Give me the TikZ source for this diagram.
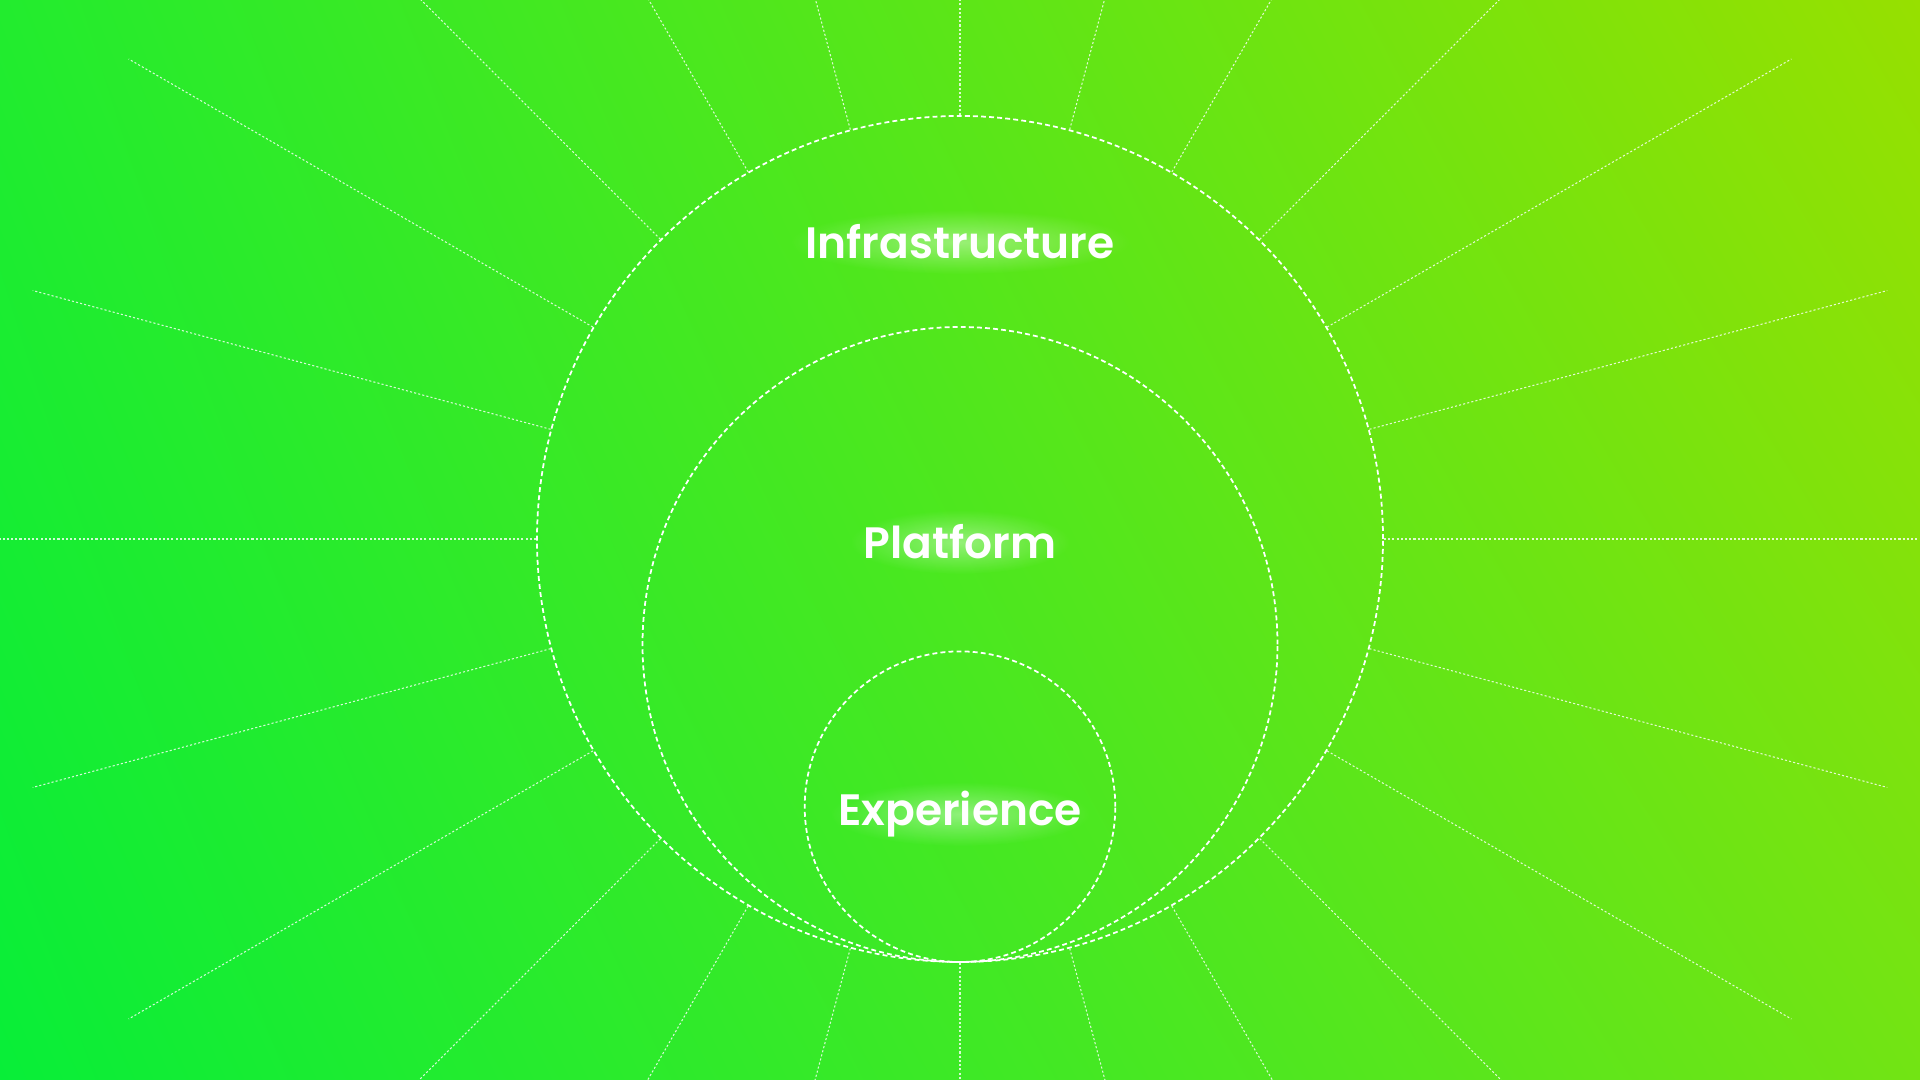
\documentclass[tikz,border=0pt]{standalone}
\usepackage{fontspec}
\setmainfont{Poppins}[BoldFont={* SemiBold}]
\usetikzlibrary{calc, fadings, shadings, positioning}
\definecolor{bgLL}{HTML}{08EE38}
\definecolor{bgUL}{HTML}{22EC2E}
\definecolor{bgLR}{HTML}{72E414}
\definecolor{bgUR}{HTML}{97E000}
\tikzfading[name=glowFade, inner color=transparent!0, outer color=transparent!100]
\tikzset{
	ring/.style={draw=white, circle, inner sep=0pt, line width=0.5pt, dash pattern=on 1.4pt off 0.9pt},
	ray/.style={draw=white, line width=0.3pt, dash pattern=on 0.6pt off 0.6pt, draw opacity=0.8},
	layer/.style={text=white, font=\bfseries\fontsize{12.5}{15}\selectfont}
}
\newcommand{\glowAt}[3]{%
	\fill[white, opacity=0.4, path fading=glowFade] (#1) ellipse ({#2} and {#3});}

\begin{document}
\begin{tikzpicture}
	\useasboundingbox (0,0) rectangle (19.2,10.8);
	\clip (0,0) rectangle (19.2,10.8);
	\shade[lower left=bgLL, upper left=bgUL, lower right=bgLR, upper right=bgUR] (0,0) rectangle (19.2,10.8);
	% the three rings, all touching at the bottom
	\node[ring, minimum size=8.46cm] (outer) at (9.6,5.41) {};
	\node[ring, minimum size=6.35cm] (middle) at (9.6,4.355) {};
	\node[ring, minimum size=3.106cm] (inner) at (9.6,2.733) {};
	% rays every 15 degrees
	\foreach \a in {0,15,...,345}
		\draw[ray] (outer.\a) -- ($(outer.center)+(\a:9.6)$);
	% labels
	\coordinate (infraPos) at (9.6,8.38);
	\coordinate (platPos) at (9.6,5.38);
	\coordinate (expPos) at (9.6,2.66);
	\glowAt{infraPos}{1.7}{0.32}
	\glowAt{platPos}{1.1}{0.32}
	\glowAt{expPos}{1.3}{0.32}
	\node[layer] (infra) at (infraPos) {Infrastructure};
	\node[layer] (plat) at (platPos) {Platform};
	\node[layer] (exp) at (expPos) {Experience};
\end{tikzpicture}
\end{document}
